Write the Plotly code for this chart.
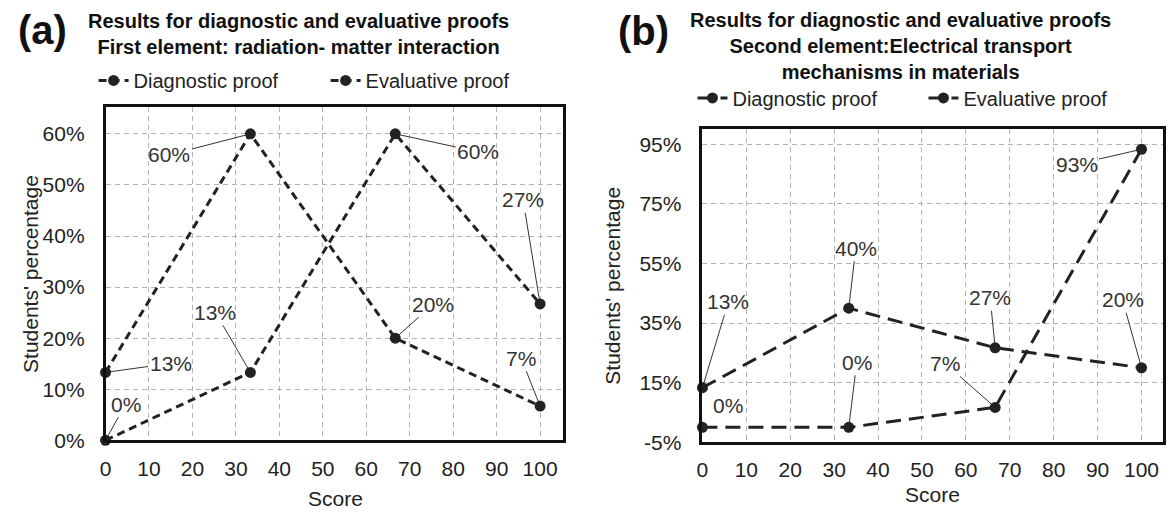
import plotly.graph_objects as go

# ---------------- data ----------------
scores = [0, 33.33, 66.67, 100]

a_diag = [13.3, 60, 20, 6.7]
a_eval = [0, 13.3, 60, 26.7]
b_diag = [13.3, 40, 26.7, 20]
b_eval = [0, 0, 6.7, 93.3]

series_names = ["Diagnostic proof", "Evaluative proof"]
x_ticks = list(range(0, 101, 10))
a_y_ticks = [0, 10, 20, 30, 40, 50, 60]
b_y_ticks = [-5, 15, 35, 55, 75, 95]

panel_a_title = "<b>Results for diagnostic and evaluative proofs<br>First element: radiation- matter interaction</b>"
panel_b_title = "<b>Results for diagnostic and evaluative proofs<br>Second element:Electrical transport<br>mechanisms in materials</b>"

# label offsets (pixels) for each point: (ax, ay)
a_diag_off = [(65, -9), (-81, 21), (38, -34), (-19, -48)]
a_eval_off = [(20, -36), (-35, -60), (83, 18), (-17, -104)]
b_diag_off = [(26, -86), (7, -60), (-5, -50), (-19, -68)]
b_eval_off = [(26, -22), (8, -65), (-50, -44), (-65, 15)]

# the page body has an 8px margin: figure is drawn inside it
PAGE_W, PAGE_H, BODY = 1174, 518, 8
W, H = PAGE_W - 2 * BODY, PAGE_H - 2 * BODY
FONT = "Liberation Sans, Arial, sans-serif"
INK = "#222222"


def px_x(px):
    return (px - BODY) / W


def px_y(py):
    return 1 - (py - BODY) / H


fig = go.Figure()


def add_series(x, y, name, xa, ya, dash, legend):
    fig.add_trace(go.Scatter(
        x=x, y=y, name=name, mode="lines+markers",
        xaxis=xa, yaxis=ya, legend=legend, cliponaxis=False,
        line=dict(color=INK, width=3, dash=dash),
        marker=dict(color=INK, size=11),
        hoverinfo="skip",
    ))


add_series(scores, a_diag, series_names[0], "x", "y", "8px,5px", "legend")
add_series(scores, a_eval, series_names[1], "x", "y", "8px,5px", "legend")
add_series(scores, b_diag, series_names[0], "x2", "y2", "15px,8px", "legend2")
add_series(scores, b_eval, series_names[1], "x2", "y2", "15px,8px", "legend2")

annotations = []
LABEL_FONT = dict(size=21, color="#333333", family=FONT)


def add_labels(x, y, offs, xref, yref, no_arrow=()):
    for i, (xi, yi, (ax, ay)) in enumerate(zip(x, y, offs)):
        if i in no_arrow:
            annotations.append(dict(
                x=xi, y=yi, xref=xref, yref=yref, text=f"{round(yi)}%",
                showarrow=False, xshift=ax, yshift=-ay, font=LABEL_FONT))
        else:
            annotations.append(dict(
                x=xi, y=yi, xref=xref, yref=yref, text=f"{round(yi)}%",
                showarrow=True, arrowhead=0, arrowwidth=1, arrowcolor="#333333",
                ax=ax, ay=ay, standoff=5, font=LABEL_FONT))


add_labels(scores, a_diag, a_diag_off, "x", "y")
add_labels(scores, a_eval, a_eval_off, "x", "y")
add_labels(scores, b_diag, b_diag_off, "x2", "y2")
add_labels(scores, b_eval, b_eval_off, "x2", "y2", no_arrow=(0,))

# panel letters and titles
for txt, (px, py) in [("<b>(a)</b>", (10, 31)), ("<b>(b)</b>", (613, 32))]:
    annotations.append(dict(x=px_x(px), y=px_y(py), xref="paper", yref="paper", text=txt,
                            showarrow=False, xanchor="left", yanchor="middle",
                            font=dict(size=40, color="#111", family=FONT)))
for txt, (px, py) in [(panel_a_title, (294, 34.5)), (panel_b_title, (899, 47))]:
    annotations.append(dict(x=px_x(px), y=px_y(py), xref="paper", yref="paper", text=txt,
                            showarrow=False, xanchor="center", yanchor="middle",
                            font=dict(size=20, color="#111", family=FONT)))

# axis titles
for txt, (px, py), ang in [("Students' percentage", (24, 280), -90),
                           ("Students' percentage", (610, 292), -90),
                           ("Score", (331, 509), 0),
                           ("Score", (931, 505), 0)]:
    annotations.append(dict(x=px_x(px), y=px_y(py), xref="paper", yref="paper", text=txt,
                            showarrow=False, textangle=ang, xanchor="center", yanchor="middle",
                            font=dict(size=21, color=INK, family=FONT)))

axis_common = dict(
    showline=True, mirror=True, linecolor="#111111", linewidth=2.5,
    showgrid=True, gridcolor="#b3b3b3", gridwidth=1, griddash="5px,4px",
    zeroline=False, ticks="outside", tickcolor="rgba(0,0,0,0)",
    tickfont=dict(size=21, color=INK, family=FONT), fixedrange=True,
)

fig.update_layout(
    width=W, height=H,
    margin=dict(l=0, r=0, t=0, b=0),
    paper_bgcolor="white", plot_bgcolor="white",
    font=dict(family=FONT, color=INK),
    showlegend=True,
    xaxis=dict(domain=[px_x(100), px_x(560)], range=[0, 105.3], tickvals=x_ticks,
               ticklen=8, anchor="y", **axis_common),
    yaxis=dict(domain=[px_y(450), px_y(109)], range=[0, 65.3], tickvals=a_y_ticks,
               ticktext=[f"{v}%" for v in a_y_ticks], ticklen=14, anchor="x", **axis_common),
    xaxis2=dict(domain=[px_x(700), px_x(1163)], range=[0, 104.9], tickvals=x_ticks,
                ticklen=7, anchor="y2", **axis_common),
    yaxis2=dict(domain=[px_y(452), px_y(132)], range=[-5, 100], tickvals=b_y_ticks,
                ticktext=[f"{v}%" for v in b_y_ticks], ticklen=14, anchor="x2", **axis_common),
    legend=dict(x=px_x(88), y=px_y(82), xanchor="left", yanchor="middle", orientation="h",
                entrywidth=187, entrywidthmode="pixels",
                font=dict(size=20, color=INK, family=FONT), bgcolor="rgba(0,0,0,0)"),
    legend2=dict(x=px_x(690), y=px_y(100), xanchor="left", yanchor="middle", orientation="h",
                 entrywidth=186, entrywidthmode="pixels",
                 font=dict(size=20, color=INK, family=FONT), bgcolor="rgba(0,0,0,0)"),
    annotations=annotations,
)

fig.write_html("out.html")
